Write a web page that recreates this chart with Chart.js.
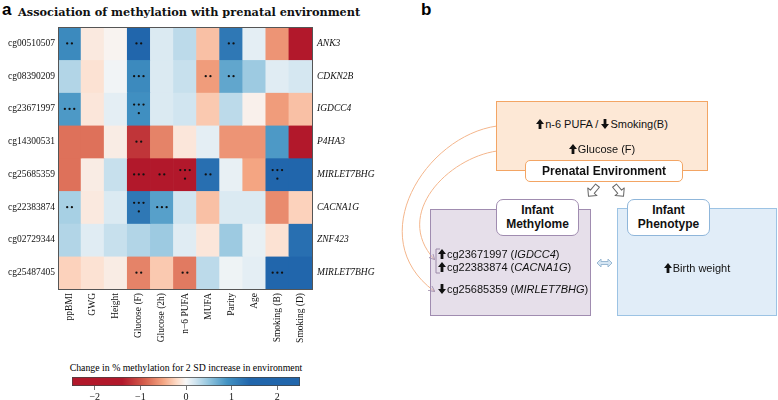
<!DOCTYPE html>
<html>
<head>
<meta charset="utf-8">
<script src="https://cdn.jsdelivr.net/npm/chart.js@4.4.1/dist/chart.umd.min.js"></script>
<style>
body{margin:0;background:#fff;width:778px;height:400px;position:relative;overflow:hidden}
.abs{position:absolute}
.serif{font-family:"Liberation Serif","Times New Roman",serif}
.lbl{font:bold 17px "Liberation Sans",Arial,sans-serif}
.box{position:absolute;box-sizing:border-box}
.tbox{position:absolute;box-sizing:border-box;background:#fff;border-radius:7px;font:bold 12px "Liberation Sans",Arial,sans-serif;text-align:center;color:#111}
.txt{position:absolute;font:11px "Liberation Sans",Arial,sans-serif;color:#111;white-space:nowrap;line-height:14px}
.ar{display:inline-block;width:8px;height:10px;vertical-align:-1px;margin-right:1px}
</style>
</head>
<body>
<div class="abs lbl" style="left:2px;top:0px">a</div>
<div class="abs" style="left:18px;top:5px;font:bold 11.3px 'DejaVu Serif',serif;white-space:nowrap;color:#111">Association of methylation with prenatal environment</div>
<div class="abs" style="left:0;top:20px;width:390px;height:330px"><canvas id="heat"></canvas></div>
<div class="abs serif" style="left:60px;top:362px;width:252px;text-align:center;font-size:9.8px;white-space:nowrap">Change in % methylation for 2 SD increase in environment</div>
<div class="abs" style="left:0;top:375px;width:390px;height:25px"><canvas id="cbar"></canvas></div>

<!-- panel b -->
<div class="abs lbl" style="left:421px;top:0px">b</div>
<svg class="abs" style="left:0;top:0" width="778" height="400">
<defs>
<marker id="ah" markerWidth="6" markerHeight="6" refX="5" refY="3" orient="auto" markerUnits="userSpaceOnUse">
<path d="M0,0 L6,3 L0,6" fill="none" stroke="#9c8aa8" stroke-width="1"/>
</marker>
</defs>
<path d="M497,126 C425,136 362,238 434,291" fill="none" stroke="#f4b68c" stroke-width="1" marker-end="url(#ah)"/>
<path d="M497,151 C448,158 393,214 434,259" fill="none" stroke="#f4b68c" stroke-width="1" marker-end="url(#ah)"/>
</svg>
<div class="box" style="left:496px;top:101px;width:212px;height:70px;background:#fde8d6;border:1px solid #f3a564"></div>
<div class="txt" style="left:496px;top:117px;width:212px;text-align:center"><svg class="ar" viewBox="0 0 8 10"><path d="M4,0 L8,5 L5.4,5 L5.4,10 L2.6,10 L2.6,5 L0,5Z" fill="#111"/></svg>n-6 PUFA / <svg class="ar" viewBox="0 0 8 10"><path d="M4,10 L8,5 L5.4,5 L5.4,0 L2.6,0 L2.6,5 L0,5Z" fill="#111"/></svg>Smoking(B)</div>
<div class="txt" style="left:496px;top:142px;width:212px;text-align:center"><svg class="ar" viewBox="0 0 8 10"><path d="M4,0 L8,5 L5.4,5 L5.4,10 L2.6,10 L2.6,5 L0,5Z" fill="#111"/></svg>Glucose (F)</div>
<div class="tbox" style="left:525px;top:160px;width:158px;height:22px;line-height:20px;border:1px solid #f3a564;border-radius:5px">Prenatal Environment</div>

<div class="box" style="left:430px;top:209px;width:161px;height:107px;background:rgba(196,178,206,0.42);border:1px solid #a08cb0"></div>
<div class="box" style="left:617px;top:208px;width:160px;height:108px;background:#e1edf8;border:1px solid #9cc3e4"></div>
<svg class="abs" style="left:0;top:0" width="778" height="400">
<g transform="translate(593,191) rotate(40)"><path d="M-2.5,-7 L2.5,-7 L2.5,1 L6,1 L0,7 L-6,1 L-2.5,1 Z" fill="#fff" stroke="#666" stroke-width="1" stroke-linejoin="round"/></g>
<g transform="translate(619,191) rotate(-40)"><path d="M-2.5,-7 L2.5,-7 L2.5,1 L6,1 L0,7 L-6,1 L-2.5,1 Z" fill="#fff" stroke="#666" stroke-width="1" stroke-linejoin="round"/></g>
<path d="M597,263 L601,259 L601,261.5 L608,261.5 L608,259 L612,263 L608,267 L608,264.5 L601,264.5 L601,267 Z" fill="#d6e6f3" stroke="#9ab9d3" stroke-width="1"/>
<path d="M440,249 L436,249 L436,273 L440,273" fill="none" stroke="#9c8aa8" stroke-width="1"/>
</svg>
<div class="tbox" style="left:496px;top:199px;width:83px;height:37px;border:1px solid #a08cb0;padding-top:3px;line-height:14px">Infant<br>Methylome</div>
<div class="tbox" style="left:627px;top:199px;width:83px;height:37px;border:1px solid #8fb6da;padding-top:3px;line-height:14px">Infant<br>Phenotype</div>
<div class="txt" style="left:438px;top:247px"><svg class="ar" viewBox="0 0 8 10"><path d="M4,0 L8,5 L5.4,5 L5.4,10 L2.6,10 L2.6,5 L0,5Z" fill="#111"/></svg>cg23671997 (<i>IGDCC4</i>)</div>
<div class="txt" style="left:438px;top:260px"><svg class="ar" viewBox="0 0 8 10"><path d="M4,0 L8,5 L5.4,5 L5.4,10 L2.6,10 L2.6,5 L0,5Z" fill="#111"/></svg>cg22383874 (<i>CACNA1G</i>)</div>
<div class="txt" style="left:438px;top:282px"><svg class="ar" viewBox="0 0 8 10"><path d="M4,10 L8,5 L5.4,5 L5.4,0 L2.6,0 L2.6,5 L0,5Z" fill="#111"/></svg>cg25685359 (<i>MIRLET7BHG</i>)</div>
<div class="txt" style="left:617px;top:261px;width:160px;text-align:center"><svg class="ar" viewBox="0 0 8 10"><path d="M4,0 L8,5 L5.4,5 L5.4,10 L2.6,10 L2.6,5 L0,5Z" fill="#111"/></svg>Birth weight</div>

<script>
// heatmap data
const probes=["cg00510507","cg08390209","cg23671997","cg14300531","cg25685359","cg22383874","cg02729344","cg25487405"]
const genes=["ANK3","CDKN2B","IGDCC4","P4HA3","MIRLET7BHG","CACNA1G","ZNF423","MIRLET7BHG"]
const exposures=["ppBMI","GWG","Height","Glucose (F)","Glucose (2h)","n\u22126 PUFA","MUFA","Parity","Age","Smoking (B)","Smoking (D)"]

// change in % methylation, one row per probe
const cg00510507=[1.0,-0.1,-0.03,1.5,0.15,0.3,-0.35,1.2,0.1,-0.6,-2.0]
const cg08390209=[0.35,-0.15,0.03,1.0,0.15,0.25,-0.55,0.75,0.45,0.12,0.18]
const cg23671997=[0.85,-0.12,0.1,0.95,0.15,0.2,-0.3,0.3,-0.05,-0.55,-0.35]
const cg14300531=[-0.8,-0.8,-0.08,-1.2,-0.7,-0.12,0.1,-0.6,-0.6,0.85,-2.0]
const cg25685359=[-0.8,-0.08,0.25,-1.8,-1.8,-1.8,1.3,0.08,-0.5,1.8,1.8]
const cg22383874=[0.4,-0.1,0.15,1.2,0.8,0.2,-0.35,0.15,0.15,-0.65,-0.25]
const cg02729344=[0.35,0.12,0.25,0.35,0.45,0.12,-0.12,0.45,0.08,-0.15,1.3]
const cg25487405=[-0.25,-0.15,-0.08,-0.7,-0.3,-0.75,0.3,0.05,0.1,1.6,1.6]
const methyl=[cg00510507,cg08390209,cg23671997,cg14300531,cg25685359,cg22383874,cg02729344,cg25487405]

// significance stars
const stars=[
["**","","","**","","","","**","","",""],
["","","","***","","","**","**","","",""],
["***","","","****","","","","","","",""],
["","","","**","","","","","","",""],
["","","","***","**","****","**","","","****",""],
["**","","","****","***","","","","","",""],
["","","","","","","","","","",""],
["","","","**","","**","","","","***",""]
]

const cbarMin=-2.5
const cbarMax=2.5
const cbarTicks=[-2,-1,0,1,2]

const cmapStops=[[-2.5,"#b2182b"],[-1.4,"#b2182b"],[-0.9,"#d6604d"],[-0.5,"#f4a582"],[-0.2,"#fddbc7"],[0,"#f7f7f7"],[0.2,"#d1e5f0"],[0.5,"#92c5de"],[0.9,"#4393c3"],[1.4,"#2166ac"],[2.5,"#2166ac"]]

function hex(c){return [1,3,5].map(i=>parseInt(c.slice(i,i+2),16))}
function toColor(v){
v=Math.max(cbarMin,Math.min(cbarMax,v))
for(let k=1;k<cmapStops.length;k++){
const [v0,c0]=cmapStops[k-1],[v1,c1]=cmapStops[k]
if(v<=v1){
const t=(v-v0)/(v1-v0),a=hex(c0),b=hex(c1)
return `rgb(${a.map((x,i)=>Math.round(x+(b[i]-x)*t)).join(",")})`
}
}
return cmapStops[cmapStops.length-1][1]
}

const serif="'Liberation Serif','Times New Roman',serif"
const noPad=s=>{s.paddingTop=0;s.paddingBottom=0;s.paddingLeft=0;s.paddingRight=0}

const frame={
id:"frame",
afterDatasetsDraw(chart){
const {ctx,chartArea:a,scales}=chart
ctx.save()
ctx.fillStyle="#111"
stars.forEach((row,i)=>row.forEach((s,j)=>{
if(!s) return
const cx=scales.x.getPixelForValue(j),cy=scales.y.getPixelForValue(i)
const top=Math.min(s.length,3),sp=4.7
const y0=s.length>3?cy-4.3:cy
for(let k=0;k<top;k++){
ctx.beginPath();ctx.arc(cx+(k-(top-1)/2)*sp,y0,1.15,0,Math.PI*2);ctx.fill()
}
if(s.length>3){ctx.beginPath();ctx.arc(cx,cy+4.3,1.15,0,Math.PI*2);ctx.fill()}
}))
ctx.strokeStyle="#555"
ctx.lineWidth=1
ctx.strokeRect(Math.round(a.left)+0.5,Math.round(a.top)+0.5,Math.round(a.width),Math.round(a.height))
ctx.restore()
}
}

new Chart(document.getElementById("heat"),{
type:"bar",
data:{
labels:exposures,
datasets:methyl.map((vals,i)=>({
label:probes[i],
data:vals.map(()=>[i-0.5,i+0.5]),
backgroundColor:vals.map(toColor),
grouped:false,
barPercentage:1,
categoryPercentage:1,
borderWidth:0
}))
},
options:{
responsive:true,
maintainAspectRatio:false,
animation:false,
layout:{padding:{top:7}},
plugins:{legend:{display:false},tooltip:{enabled:false}},
scales:{
x:{
grid:{display:false,drawTicks:false,tickLength:0},
border:{display:false},
ticks:{autoSkip:false,minRotation:90,maxRotation:90,padding:4,color:"#111",font:{family:serif,size:9.5}},
afterFit:s=>{s.height=61;noPad(s)}
},
y:{
type:"linear",reverse:true,min:-0.5,max:7.5,
grid:{display:false,drawTicks:false,tickLength:0},
border:{display:false},
afterBuildTicks:s=>{s.ticks=probes.map((_,i)=>({value:i}))},
ticks:{padding:3,color:"#111",font:{family:serif,size:9.5},callback:v=>probes[v]},
afterFit:s=>{s.width=58;noPad(s)}
},
y2:{
type:"linear",position:"right",reverse:true,min:-0.5,max:7.5,
grid:{display:false,drawTicks:false,tickLength:0},
border:{display:false},
afterBuildTicks:s=>{s.ticks=genes.map((_,i)=>({value:i}))},
ticks:{padding:5,color:"#111",font:{family:serif,size:9.5,style:"italic"},callback:v=>genes[v]},
afterFit:s=>{s.width=78;noPad(s)}
}
}
},
plugins:[frame]
})

new Chart(document.getElementById("cbar"),{
type:"bar",
data:{
labels:[""],
datasets:[{
data:[[cbarMin,cbarMax]],
backgroundColor:ctx=>{
const ch=ctx.chart,xs=ch.scales.x
if(!ch.chartArea||!xs) return "#fff"
const g=ch.ctx.createLinearGradient(xs.getPixelForValue(cbarMin),0,xs.getPixelForValue(cbarMax),0)
cmapStops.forEach(([v,c])=>g.addColorStop((v-cbarMin)/(cbarMax-cbarMin),c))
return g
},
borderColor:"#444",
borderWidth:1,
borderSkipped:false,
barPercentage:1,
categoryPercentage:1
}]
},
options:{
indexAxis:"y",
responsive:true,
maintainAspectRatio:false,
animation:false,
layout:{padding:{left:72,right:90,top:2}},
plugins:{legend:{display:false},tooltip:{enabled:false}},
scales:{
x:{
type:"linear",min:cbarMin,max:cbarMax,
grid:{drawOnChartArea:false,drawTicks:true,tickLength:4,color:"#777"},
border:{display:false},
afterBuildTicks:s=>{s.ticks=cbarTicks.map(v=>({value:v}))},
ticks:{padding:1,color:"#111",font:{family:serif,size:10},callback:v=>v<0?"\u2212"+Math.abs(v):String(v)},
afterFit:s=>{s.height=14;noPad(s)}
},
y:{display:false}
}
}
})
</script>
</body>
</html>
